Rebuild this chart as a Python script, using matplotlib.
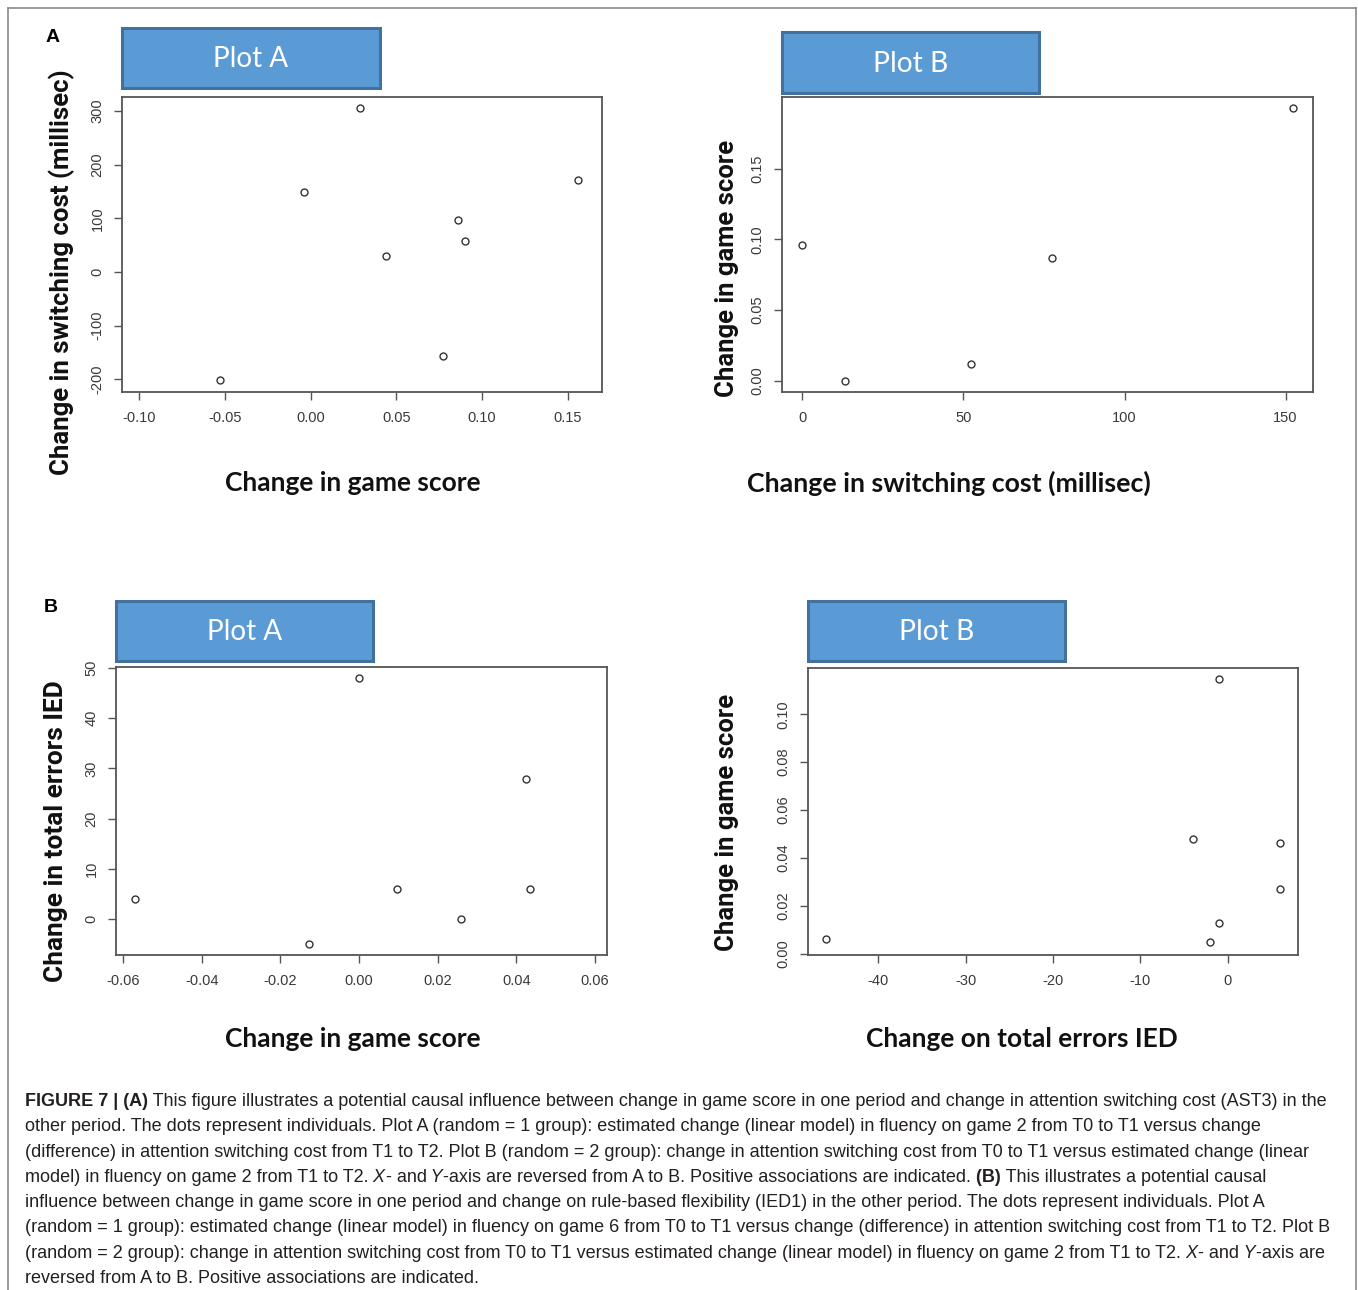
import matplotlib
matplotlib.use("Agg")
import matplotlib.pyplot as plt
from matplotlib import font_manager
from matplotlib.patches import Rectangle
from matplotlib.lines import Line2D

# ---- data ----
# A, plot A: game score change vs switching cost change
a1_game = [-0.053, -0.004, 0.029, 0.044, 0.077, 0.086, 0.090, 0.156]
a1_switch = [-202, 149, 306, 30, -156, 97, 57, 171]
# A, plot B: switching cost change vs game score change
a2_switch = [0, 13.3, 52.5, 77.4, 152.3]
a2_game = [0.096, 0.000, 0.012, 0.087, 0.193]
# B, plot A: game score change vs total errors IED
b1_game = [-0.057, -0.0127, 0.0, 0.0097, 0.026, 0.0424, 0.0435]
b1_ied = [4, -5, 48, 6, 0, 28, 6]
# B, plot B: total errors IED vs game score change
b2_ied = [-46, -4, -1, -2, -1, 6, 6]
b2_game = [0.0061, 0.0477, 0.1147, 0.0047, 0.0127, 0.0463, 0.0270]

a1_xticks = [-0.10, -0.05, 0.00, 0.05, 0.10, 0.15]
a1_yticks = [-200, -100, 0, 100, 200, 300]
a2_xticks = [0, 50, 100, 150]
a2_yticks = [0.00, 0.05, 0.10, 0.15]
b1_xticks = [-0.06, -0.04, -0.02, 0.00, 0.02, 0.04, 0.06]
b1_yticks = [0, 10, 20, 30, 40, 50]
b2_xticks = [-40, -30, -20, -10, 0]
b2_yticks = [0.00, 0.02, 0.04, 0.06, 0.08, 0.10]

W, H = 1358, 1290
fig = plt.figure(figsize=(W / 100, H / 100), dpi=100)
fig.patch.set_facecolor("white")
renderer = fig.canvas.get_renderer()

names = {f.name for f in font_manager.fontManager.ttflist}
cap_font = "Liberation Sans Narrow" if "Liberation Sans Narrow" in names else "Liberation Sans"
lab_font = "Lato" if "Lato" in names else "DejaVu Sans"
ylab_font = "Roboto" if "Roboto" in names else "DejaVu Sans"


def fx(x):
    return x / W


def fy(y):
    return 1 - y / H


def fit(t, target, vertical=False):
    bb = t.get_window_extent(renderer)
    size = bb.height if vertical else bb.width
    t.set_fontsize(t.get_fontsize() * target / size)


# outer frame
for xs, ys in [((8, 8), (8, 1300)), ((8, 1356), (8, 8)), ((1356, 1356), (8, 1300))]:
    fig.add_artist(Line2D([fx(v) for v in xs], [fy(v) for v in ys], color="#8a8a8a", lw=1.2))


def panel(rect, xs, ys, xlim, ylim, xt, xtl, yt, ytl, box, title, xlabel, xl_c, xl_w, ylabel, yl_c, yl_w):
    l, t, r, b = rect
    ax = fig.add_axes([fx(l), fy(b), (r - l) / W, (b - t) / H])
    ax.plot(xs, ys, "o", mfc="none", mec="#333333", ms=5, mew=1)
    ax.set_xlim(*xlim)
    ax.set_ylim(*ylim)
    ax.set_xticks(xt)
    ax.set_xticklabels(xtl)
    ax.set_yticks(yt)
    ax.set_yticklabels(ytl, rotation=90, va="center")
    ax.tick_params(direction="out", length=5.5, width=1, color="#555555",
                   labelsize=10.5, labelcolor="#3a3a3a", pad=8)
    ax.tick_params(axis="y", pad=7)
    for s in ax.spines.values():
        s.set_color("#555555")
        s.set_linewidth(1.3)
    for lab in ax.get_xticklabels() + ax.get_yticklabels():
        lab.set_family("Liberation Sans")

    bl, bt, br, bb = box
    fig.add_artist(Rectangle((fx(bl), fy(bb)), (br - bl) / W, (bb - bt) / H,
                             facecolor="#5b9bd5", edgecolor="#41719c", lw=2.2,
                             transform=fig.transFigure))
    tt = fig.text(fx((bl + br) / 2), fy((bt + bb) / 2 + 1), title, color="white",
                  family=lab_font, fontsize=20, ha="center", va="center")
    fit(tt, title_w)

    xl = fig.text(fx(xl_c[0]), fy(xl_c[1]), xlabel, family=lab_font, fontweight="bold",
                  fontsize=18, ha="center", va="center", color="#111111")
    fit(xl, xl_w)
    yl = fig.text(fx(yl_c[0]), fy(yl_c[1]), ylabel, family=ylab_font, fontweight="bold",
                  fontsize=16, ha="center", va="center", rotation=90, color="#111111")
    fit(yl, yl_w, vertical=True)
    return ax


title_w = 75

panel((122, 97, 602, 392), a1_game, a1_switch, (-0.110, 0.170), (-223.5, 326),
      a1_xticks, ["-0.10", "-0.05", "0.00", "0.05", "0.10", "0.15"],
      a1_yticks, ["-200", "-100", "0", "100", "200", "300"],
      (122, 28, 380, 88), "Plot A",
      "Change in game score", (353, 483), 257,
      "Change in switching cost (millisec)", (62, 272), 405)

panel((782, 97, 1313, 392), a2_switch, a2_game, (-6.3, 158.5), (-0.008, 0.2007),
      a2_xticks, ["0", "50", "100", "150"],
      a2_yticks, ["0.00", "0.05", "0.10", "0.15"],
      (782, 32, 1039, 93), "Plot B",
      "Change in switching cost (millisec)", (949, 483), 405,
      "Change in game score", (727, 268), 257)

panel((116, 667, 607, 955), b1_game, b1_ied, (-0.0618, 0.0631), (-7.13, 50.2),
      b1_xticks, ["-0.06", "-0.04", "-0.02", "0.00", "0.02", "0.04", "0.06"],
      b1_yticks, ["0", "10", "20", "30", "40", "50"],
      (116, 601, 373, 661), "Plot A",
      "Change in game score", (353, 1039), 257,
      "Change in total errors IED", (56, 831), 303)

panel((808, 668, 1298, 955), b2_ied, b2_game, (-48.08, 8.08), (-0.0006, 0.1193),
      b2_xticks, ["-40", "-30", "-20", "-10", "0"],
      b2_yticks, ["0.00", "0.02", "0.04", "0.06", "0.08", "0.10"],
      (808, 601, 1065, 661), "Plot B",
      "Change on total errors IED", (1022, 1039), 312,
      "Change in game score", (727, 822), 257)

fig.text(fx(53), fy(37), "A", family="Liberation Sans", fontweight="bold", fontsize=14,
         ha="center", va="center")
fig.text(fx(51), fy(607), "B", family="Liberation Sans", fontweight="bold", fontsize=14,
         ha="center", va="center")

# ---- caption ----
N, B, I = ("normal", "normal"), ("bold", "normal"), ("normal", "italic")
caption = [
    [("FIGURE 7 | (A)", B), (" This figure illustrates a potential causal influence between change in game score in one period and change in attention switching cost (AST3) in the", N)],
    [("other period. The dots represent individuals. Plot A (random = 1 group): estimated change (linear model) in fluency on game 2 from T0 to T1 versus change", N)],
    [("(difference) in attention switching cost from T1 to T2. Plot B (random = 2 group): change in attention switching cost from T0 to T1 versus estimated change (linear", N)],
    [("model) in fluency on game 2 from T1 to T2.", N), (" X", I), ("- and", N), (" Y", I),
     ("-axis are reversed from A to B. Positive associations are indicated.", N), (" (B)", B),
     (" This illustrates a potential causal", N)],
    [("influence between change in game score in one period and change on rule-based flexibility (IED1) in the other period. The dots represent individuals. Plot A", N)],
    [("(random = 1 group): estimated change (linear model) in fluency on game 6 from T0 to T1 versus change (difference) in attention switching cost from T1 to T2. Plot B", N)],
    [("(random = 2 group): change in attention switching cost from T0 to T1 versus estimated change (linear model) in fluency on game 2 from T1 to T2.", N), (" X", I),
     ("- and", N), (" Y", I), ("-axis are", N)],
    [("reversed from A to B. Positive associations are indicated.", N)],
]


def draw_line(y, segs, size):
    x = 25
    arts = []
    for txt, (w, st) in segs:
        t = fig.text(fx(x), fy(y), txt, family=cap_font, fontweight=w, fontstyle=st,
                     fontsize=size, ha="left", va="baseline", color="#231f20")
        x += t.get_window_extent(renderer).width
        arts.append(t)
    return x - 25, arts


base = 12
w0, arts = draw_line(1106, caption[0], base)
for a in arts:
    a.remove()
cap_size = base * 1302 / w0
for i, segs in enumerate(caption):
    draw_line(1106 + 25.3 * i, segs, cap_size)

fig.savefig("out.png", dpi=100)
